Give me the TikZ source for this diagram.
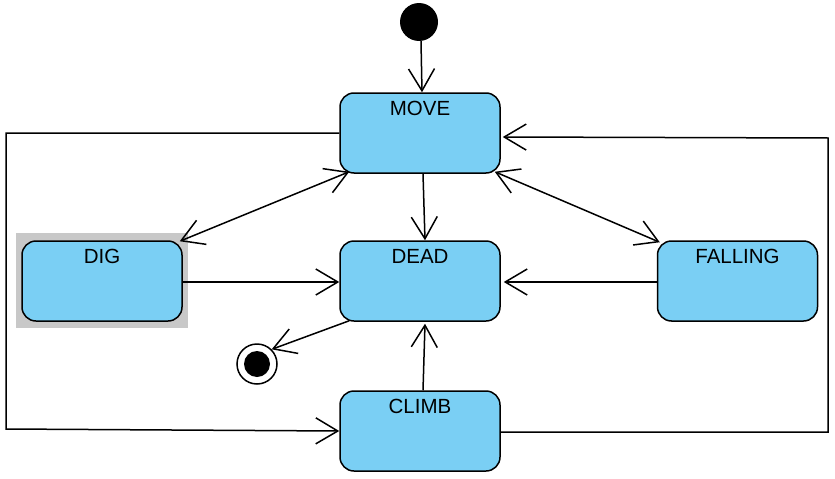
\documentclass[tikz,border=0pt]{standalone}
\usepackage{fontspec}
\setmainfont{Liberation Sans}
\usetikzlibrary{arrows.meta,calc}
\definecolor{stfill}{RGB}{122,207,244}
\definecolor{shadowgray}{RGB}{200,200,200}
\begin{document}
\begin{tikzpicture}[x=1pt,y=-1pt,
  statebox/.style={draw=black,line width=1.5pt,fill=stfill,rounded corners=14pt,
    minimum width=160pt,minimum height=80pt,inner sep=0pt},
  stlabel/.style={font=\fontsize{20.5}{24}\selectfont,anchor=north,inner sep=0pt,yshift=-9pt},
  conn/.style={line width=1.5pt,-{Straight Barb[length=22pt,width=26pt,line width=1.5pt]}},
  bconn/.style={line width=1.5pt,{Straight Barb[length=22pt,width=26pt,line width=1.5pt]}-{Straight Barb[length=22pt,width=26pt,line width=1.5pt]}}]
\useasboundingbox (0,0) rectangle (835,479);
% shadow under DIG
\fill[shadowgray] (16,233) rectangle (188,328);
\node[statebox,label={[stlabel]north:MOVE}] (move) at (420,133) {};
\node[statebox,label={[stlabel]north:DIG}] (dig) at (102,281) {};
\node[statebox,label={[stlabel]north:DEAD}] (dead) at (420,281) {};
\node[statebox,label={[stlabel]north:FALLING}] (falling) at (737.5,281) {};
\node[statebox,label={[stlabel]north:CLIMB}] (climb) at (420,431) {};
\node[circle,fill=black,minimum size=38pt,inner sep=0pt] (init) at (419,22) {};
\node[circle,draw=black,line width=1.5pt,fill=white,minimum size=40pt,inner sep=0pt] (final) at (257,364) {};
\node[circle,fill=black,minimum size=26pt,inner sep=0pt] (finalin) at (257,364) {};
% corner points of the loops
\coordinate (lt) at (6,133);
\coordinate (lb) at (6,429);
\coordinate (rb) at (828,432);
\coordinate (rt) at (828,138);
% connectors
\draw[conn] ([xshift=2pt]init.south) -- ([xshift=2pt]move.north);
\draw[conn] ([xshift=3pt]move.south) -- ([xshift=5pt]dead.north);
\draw[bconn] ([xshift=-3pt,yshift=-1pt]dig.north east) -- ([xshift=10pt,yshift=2pt]move.south west);
\draw[bconn] ([xshift=-6pt,yshift=2pt]move.south east) -- ([xshift=3pt,yshift=-2pt]falling.north west);
\draw[conn] ([yshift=-1pt]dig.east) -- ([yshift=-1pt]dead.west);
\draw[conn] ([yshift=-1pt]falling.west) -- ([xshift=3pt,yshift=-1pt]dead.east);
\draw[conn] ([xshift=10pt,yshift=1pt]dead.south west) -- (final.north east);
\draw[conn] ([xshift=3pt]climb.north) -- ([xshift=5pt,yshift=-2pt]dead.south);
\draw[conn] (move.west) -- (lt) -- (lb) -- (climb.west);
\draw[conn] ([yshift=-1pt]climb.east) -- (rb) -- (rt) -- ([xshift=2pt,yshift=-4pt]move.east);
\end{tikzpicture}
\end{document}
